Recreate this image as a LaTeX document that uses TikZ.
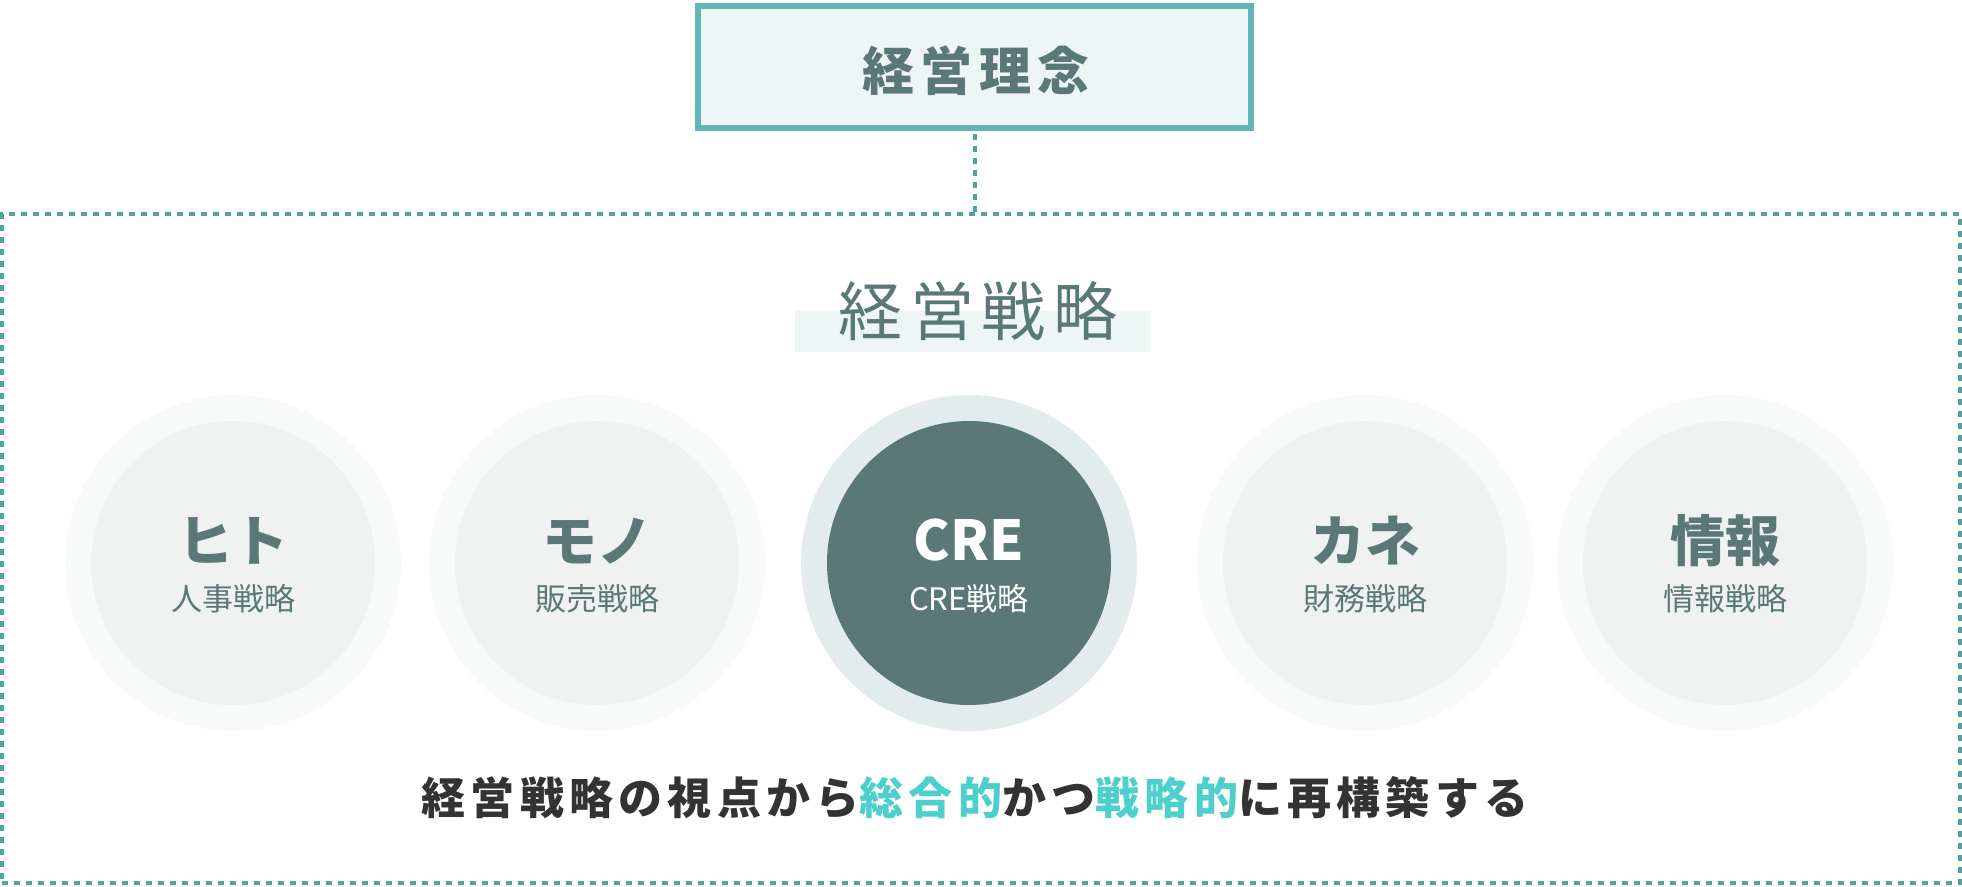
\documentclass[tikz,border=0pt]{standalone}
\usepackage{fontspec}
\setmainfont{Noto Sans CJK JP}
\definecolor{ink}{HTML}{5A7876}
\definecolor{frameteal}{HTML}{4FA3A0}
\definecolor{boxteal}{HTML}{62B7B6}
\definecolor{mint}{HTML}{EDF6F5}
\definecolor{ringgrey}{HTML}{F8F9F9}
\definecolor{discgrey}{HTML}{EFF2F1}
\definecolor{ringcre}{HTML}{E2ECEC}
\definecolor{dark}{HTML}{333333}
\definecolor{aqua}{HTML}{4DCFCB}
\usetikzlibrary{calc}

\begin{document}
\begin{tikzpicture}[x=1pt,y=-1pt,
		dots/.style={draw=frameteal, line width=4pt, dash pattern=on 6pt off 6pt},
		ring/.style={circle, inner sep=0pt, minimum size=336pt},
		disc/.style={circle, inner sep=0pt, minimum size=284pt},
		head/.style={anchor=base, inner sep=0pt, font=\fontsize{55}{60}\selectfont\bfseries},
		sub/.style={anchor=base, inner sep=0pt, font=\fontsize{31}{36}\selectfont}]
		\useasboundingbox (0,0) rectangle (1962,886);
		%outer frame
		\node[dots, inner sep=0pt, minimum width=1958pt, minimum height=669pt] (frame) at (981,548.5) {};
		\node[draw=boxteal, fill=mint, line width=6pt, inner sep=0pt,
		minimum width=553pt, minimum height=122.5pt] (rinen) at (974.5,67) {};
		\node[anchor=base, inner sep=0pt, text=ink,
		font=\fontsize{52}{60}\selectfont\bfseries\addfontfeatures{LetterSpace=12}] (rinentxt) at (976,90) {経営理念};
		\draw[dots, shorten <=3pt] (rinen.south) -- (rinen.south |- frame.north);
		%title
		\node[fill=mint, inner sep=0pt, minimum width=355pt, minimum height=41pt] (band) at (972.5,331.5) {};
		\node[anchor=base, inner sep=0pt, text=ink,
		font=\fontsize{64}{70}\selectfont\addfontfeatures{LetterSpace=12}] (title) at (978,335) {経営戦略};
		%grey circles
		\foreach \x/\main/\name [count=\n] in {233/ヒト/人事戦略, 597/モノ/販売戦略, 1365/カネ/財務戦略, 1725/情報/情報戦略}
		{
			\node[ring, fill=ringgrey] (ring\n) at (\x,563) {};
			\node[disc, fill=discgrey] (disc\n) at (ring\n) {};
			\node[head, text=ink] (head\n) at (\x,561) {\main};
			\node[sub, text=ink] (sub\n) at (\x,610) {\name};
		}
		%cre circle
		\node[ring, fill=ringcre] (ringcre) at (969,563) {};
		\node[disc, fill=ink] (disccre) at (ringcre) {};
		\node[head, text=white] (headcre) at (969,560) {CRE};
		\node[sub, text=white] (subcre) at (969,610) {CRE戦略};
		%message
		\node[anchor=base, inner sep=0pt, text=dark,
		font=\fontsize{44}{50}\selectfont\bfseries\addfontfeatures{LetterSpace=12}] (message) at (975,814)
		{経営戦略の視点から{\color{aqua}総合的}かつ{\color{aqua}戦略的}に再構築する};
\end{tikzpicture}
\end{document}
